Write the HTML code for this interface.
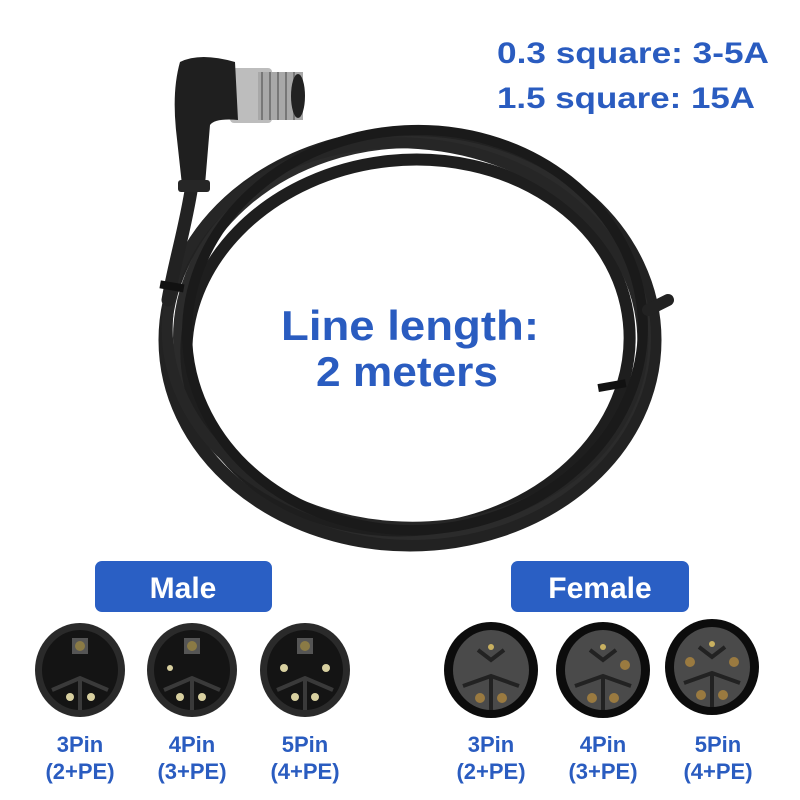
<!DOCTYPE html>
<html><head><style>
body{margin:0;background:#fff;}
svg{display:block;}
text{font-family:"Liberation Sans",sans-serif;font-weight:bold;}
</style></head><body>
<svg width="800" height="800" viewBox="0 0 800 800">
<rect width="800" height="800" fill="#fff"/>
<!-- cable coil -->
<g fill="none" stroke="#222" stroke-linecap="round">
<ellipse cx="410" cy="340" rx="245" ry="205" stroke-width="13"/>
<ellipse cx="412" cy="338" rx="233" ry="196" stroke-width="12" stroke="#2b2b2b"/>
<ellipse cx="408" cy="345" rx="222" ry="185" stroke-width="12" stroke="#1e1e1e" transform="rotate(-6 408 345)"/>
<ellipse cx="405" cy="335" rx="238" ry="192" stroke-width="11" stroke="#262626" transform="rotate(4 405 335)"/>
<ellipse cx="415" cy="330" rx="228" ry="200" stroke-width="10" stroke="#1a1a1a" transform="rotate(-3 415 330)"/>
<path d="M648 310 L668 300" stroke-width="12"/>
<path d="M192 185 C185 230 175 260 168 300" stroke-width="13"/>
</g>
<!-- ties -->
<rect x="160" y="282" width="24" height="8" fill="#111" transform="rotate(10 170 286)"/>
<rect x="598" y="382" width="28" height="8" fill="#111" transform="rotate(-10 610 386)"/>
<!-- connector -->
<rect x="230" y="68" width="42" height="55" fill="#bdbdbd" rx="4"/>
<rect x="258" y="72" width="45" height="48" fill="#a8a8a8"/>
<g stroke="#777" stroke-width="2"><line x1="262" y1="72" x2="262" y2="120"/><line x1="270" y1="72" x2="270" y2="120"/><line x1="278" y1="72" x2="278" y2="120"/><line x1="286" y1="72" x2="286" y2="120"/><line x1="294" y1="72" x2="294" y2="120"/></g>
<ellipse cx="298" cy="96" rx="7" ry="22" fill="#222"/>
<path d="M180 62 Q200 52 235 62 L238 120 Q215 118 210 125 L205 185 L182 185 L176 130 Q172 90 180 62 Z" fill="#1f1f1f"/>
<rect x="178" y="180" width="32" height="12" rx="3" fill="#262626"/>
<!-- top text -->
<text x="497" y="63" font-size="30" fill="#2a5cc0" textLength="272" lengthAdjust="spacingAndGlyphs">0.3 square: 3-5A</text>
<text x="497" y="108" font-size="30" fill="#2a5cc0" textLength="258" lengthAdjust="spacingAndGlyphs">1.5 square: 15A</text>
<text x="410" y="340" font-size="42" fill="#2a5cc0" text-anchor="middle" textLength="258" lengthAdjust="spacingAndGlyphs">Line length:</text>
<text x="407" y="386" font-size="42" fill="#2a5cc0" text-anchor="middle" textLength="182" lengthAdjust="spacingAndGlyphs">2 meters</text>
<!-- badges -->
<rect x="95" y="561" width="177" height="51" rx="7" fill="#2a5fc4"/>
<text x="183" y="598" font-size="30" fill="#fff" text-anchor="middle">Male</text>
<rect x="511" y="561" width="178" height="51" rx="7" fill="#2a5fc4"/>
<text x="600" y="598" font-size="30" fill="#fff" text-anchor="middle">Female</text>
<!-- male connectors -->
<g>
<ellipse cx="80" cy="670" rx="45" ry="47" fill="#2a2a2a"/><ellipse cx="80" cy="670" rx="38" ry="40" fill="#141414"/>
<path d="M52 690 L80 678 L108 690 M80 678 L80 710" stroke="#3a3a3a" stroke-width="4" fill="none"/>
<rect x="72" y="638" width="16" height="16" fill="#555"/><circle cx="80" cy="646" r="5" fill="#8a7a45"/>
<circle cx="70" cy="697" r="4" fill="#d8d0a0"/><circle cx="91" cy="697" r="4" fill="#d8d0a0"/>

<ellipse cx="192" cy="670" rx="45" ry="47" fill="#2a2a2a"/><ellipse cx="192" cy="670" rx="38" ry="40" fill="#141414"/>
<path d="M164 690 L192 678 L220 690 M192 678 L192 710" stroke="#3a3a3a" stroke-width="4" fill="none"/>
<rect x="184" y="638" width="16" height="16" fill="#555"/><circle cx="192" cy="646" r="5" fill="#8a7a45"/>
<circle cx="180" cy="697" r="4" fill="#d8d0a0"/><circle cx="202" cy="697" r="4" fill="#d8d0a0"/><circle cx="170" cy="668" r="3" fill="#d8d0a0"/>

<ellipse cx="305" cy="670" rx="45" ry="47" fill="#2a2a2a"/><ellipse cx="305" cy="670" rx="38" ry="40" fill="#141414"/>
<path d="M277 690 L305 678 L333 690 M305 678 L305 710" stroke="#3a3a3a" stroke-width="4" fill="none"/>
<rect x="297" y="638" width="16" height="16" fill="#555"/><circle cx="305" cy="646" r="5" fill="#8a7a45"/>
<circle cx="295" cy="697" r="4" fill="#d8d0a0"/><circle cx="315" cy="697" r="4" fill="#d8d0a0"/><circle cx="284" cy="668" r="4" fill="#d8d0a0"/><circle cx="326" cy="668" r="4" fill="#d8d0a0"/>
</g>
<!-- female connectors -->
<g>
<ellipse cx="491" cy="670" rx="47" ry="48" fill="#0c0c0c"/><ellipse cx="491" cy="670" rx="38" ry="40" fill="#4a4a4a"/>
<path d="M463 686 L491 676 L519 686 M491 676 L491 710 M478 650 L491 660 L504 650" stroke="#222" stroke-width="4" fill="none"/>
<circle cx="491" cy="647" r="3" fill="#c8b060"/><circle cx="480" cy="698" r="5" fill="#9a7a40"/><circle cx="502" cy="698" r="5" fill="#9a7a40"/>

<ellipse cx="603" cy="670" rx="47" ry="48" fill="#0c0c0c"/><ellipse cx="603" cy="670" rx="38" ry="40" fill="#4a4a4a"/>
<path d="M575 686 L603 676 L631 686 M603 676 L603 710 M590 650 L603 660 L616 650" stroke="#222" stroke-width="4" fill="none"/>
<circle cx="603" cy="647" r="3" fill="#c8b060"/><circle cx="592" cy="698" r="5" fill="#9a7a40"/><circle cx="614" cy="698" r="5" fill="#9a7a40"/><circle cx="625" cy="665" r="5" fill="#9a7a40"/>

<ellipse cx="712" cy="667" rx="47" ry="48" fill="#0c0c0c"/><ellipse cx="712" cy="667" rx="38" ry="40" fill="#4a4a4a"/>
<path d="M684 683 L712 673 L740 683 M712 673 L712 707 M699 647 L712 657 L725 647" stroke="#222" stroke-width="4" fill="none"/>
<circle cx="712" cy="644" r="3" fill="#c8b060"/><circle cx="701" cy="695" r="5" fill="#9a7a40"/><circle cx="723" cy="695" r="5" fill="#9a7a40"/><circle cx="734" cy="662" r="5" fill="#9a7a40"/><circle cx="690" cy="662" r="5" fill="#9a7a40"/>
</g>
<!-- pin labels -->
<g font-size="22" fill="#2a5cc0" text-anchor="middle">
<text x="80" y="752">3Pin</text><text x="80" y="779">(2+PE)</text>
<text x="192" y="752">4Pin</text><text x="192" y="779">(3+PE)</text>
<text x="305" y="752">5Pin</text><text x="305" y="779">(4+PE)</text>
<text x="491" y="752">3Pin</text><text x="491" y="779">(2+PE)</text>
<text x="603" y="752">4Pin</text><text x="603" y="779">(3+PE)</text>
<text x="718" y="752">5Pin</text><text x="718" y="779">(4+PE)</text>
</g>
</svg>
</body></html>
